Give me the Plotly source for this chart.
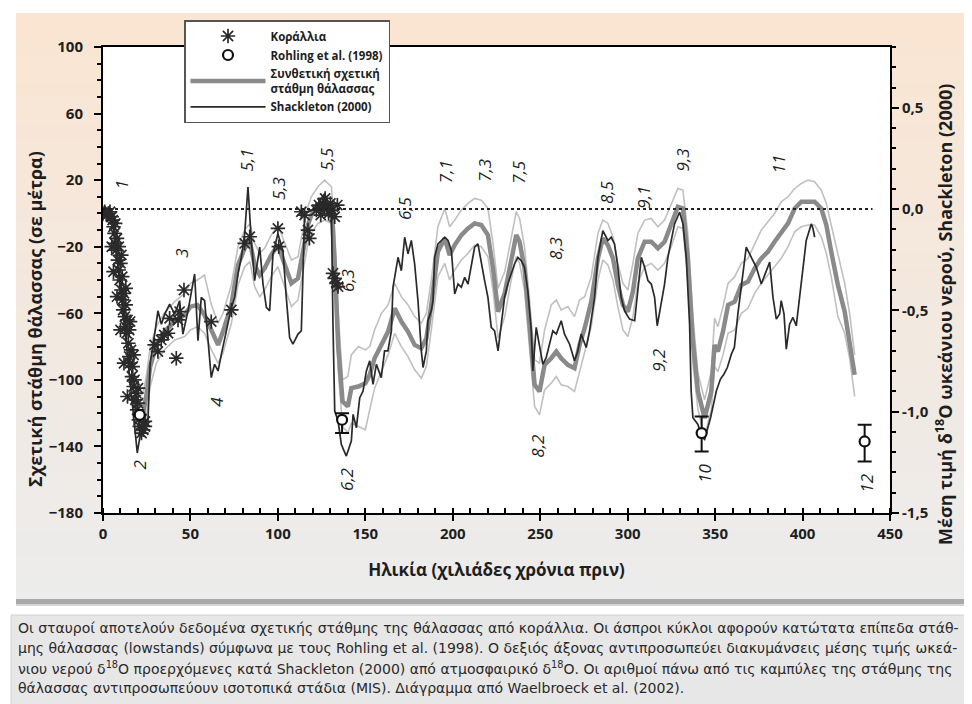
import plotly.graph_objects as go

# ---------------- DATA ----------------
# Composite relative sea level (m) and its envelope
comp_age = [17, 19, 21, 23, 25, 27, 30.5, 35, 41, 46.7,
            50, 54, 58, 62, 65.8, 68.6, 73.4, 75.3, 77.2, 81,
            84, 86.7, 89.6, 92.4, 96.2, 100, 103.9, 107.7, 111.5, 114.3,
            117.2, 119.1, 122.9, 126.7, 130.6, 132.5, 134.5, 137, 140, 142,
            146, 150, 152.5, 155.3, 159.2, 163, 166.8, 170.6, 174.4, 178.2,
            182, 184.9, 187.7, 191.5, 195.4, 198.2, 201.1, 204.9, 208.7, 212.5,
            216.3, 220.1, 223, 225.9, 229.7, 233.4, 236.3, 238.2, 241, 243.9,
            246.8, 249.6, 252.5, 256.3, 259.2, 262, 265.8, 269.6, 272.5, 275.4,
            279.2, 283, 285.8, 288.7, 291.6, 294.4, 297.3, 300.1, 303, 305.8,
            309.7, 313.5, 317.3, 321.1, 324.9, 328.7, 331.6, 334.4, 337.3, 340.2,
            344, 347.8, 349.7, 351.6, 354.5, 357.4, 361.2, 365, 368.8, 372.6,
            376.4, 380.2, 384, 387.8, 391.7, 395.5, 399.3, 403.1, 406.9, 410.7,
            413.6, 416.4, 420.2, 424.1, 426.9, 429.8]
comp_sl = [-110, -118, -122, -120, -108, -92, -79, -71, -65, -61,
           -56, -55, -61, -71, -79, -71, -55, -43, -31, -21,
           -17, -31, -37, -33, -25, -19, -31, -42, -39, -23,
           -7, -1, 5, 7, 5, -30, -80, -113, -116, -105,
           -104, -102, -97, -87, -79, -71, -57, -65, -71, -79,
           -81, -75, -55, -23, -15, -25, -19, -13, -9, -6,
           -7, -13, -33, -59, -48, -27, -13, -17, -33, -67,
           -103, -107, -91, -87, -83, -87, -91, -93, -79, -69,
           -53, -27, -15, -19, -27, -43, -55, -59, -47, -27,
           -17, -17, -21, -17, -7, 4, 3, -27, -77, -107,
           -123, -107, -79, -83, -71, -55, -53, -43, -41, -33,
           -27, -23, -17, -11, -6, 3, 7, 7, 7, 3,
           -7, -23, -43, -59, -79, -97]
comp_upper = [-98, -105, -110, -108, -96, -80, -68, -60, -53, -48,
              -42, -40, -37, -55, -66, -60, -43, -31, -20, -10,
              -6, -18, -24, -21, -13, -7, -18, -28, -26, -10,
              4, 10, 16, 20, 16, -10, -60, -100, -98, -85,
              -80, -82, -80, -70, -60, -55, -42, -50, -55, -62,
              -66, -60, -40, -8, 3, -8, -4, 2, 6, 9,
              8, 3, -18, -45, -35, -14, 1, -3, -20, -52,
              -88, -90, -70, -55, -52, -58, -56, -62, -52, -50,
              -38, -12, -4, -6, -14, -30, -42, -46, -30, -12,
              -4, -3, -8, -4, 6, 15, 14, -12, -62, -96,
              -112, -95, -63, -68, -56, -42, -38, -30, -27, -18,
              -10, -5, 0, 7, 10, 15, 18, 20, 19, 14,
              6, -7, -25, -42, -60, -85]
comp_lower = [-122, -130, -134, -132, -120, -104, -90, -82, -76, -74,
              -70, -68, -72, -82, -90, -84, -66, -55, -43, -32,
              -29, -44, -50, -46, -38, -32, -44, -56, -52, -36,
              -18, -12, -6, -4, -6, -45, -95, -128, -132, -126,
              -128, -130, -118, -105, -95, -85, -72, -80, -86, -94,
              -99, -92, -70, -38, -30, -40, -34, -28, -24, -19,
              -20, -26, -46, -75, -62, -40, -26, -30, -46, -80,
              -116, -121, -106, -102, -98, -103, -104, -107, -95, -84,
              -68, -40, -28, -31, -40, -56, -70, -74, -62, -42,
              -32, -30, -34, -30, -20, -8, -9, -40, -90, -118,
              -134, -118, -92, -95, -85, -72, -70, -60, -57, -48,
              -42, -37, -32, -27, -20, -11, -8, -7, -7, -14,
              -24, -38, -62, -72, -87, -110]

# Shackleton (2000) mean ocean-water d18O (right axis)
sh_age = [0, 3, 6, 9, 12, 15, 17, 19.6, 21, 23,
          25.7, 27, 29.7, 31.4, 33.4, 35.3, 38.1, 41, 43.8, 45.7,
          48.6, 52.4, 54.3, 56.2, 58.1, 60, 61.9, 63.8, 65.8, 67.7,
          70.5, 73.4, 75.3, 77.2, 79.1, 81, 82.9, 84.8, 86.7, 89.6,
          91.5, 93.4, 95.3, 97.2, 100, 102.9, 104.8, 106.7, 108.6, 111.5,
          113.4, 114.4, 115.3, 119.1, 122.9, 126.7, 129.6, 130.6, 131.5, 132.5,
          134.4, 136.3, 139.1, 142, 143, 144.9, 146.8, 148.7, 150.6, 152.5,
          154.4, 156.3, 159.1, 161, 162.9, 164.9, 165.8, 167.7, 168.7, 170.6,
          172.5, 174.4, 176.3, 178.2, 180.1, 182, 183, 184.9, 185.8, 187.7,
          188.7, 189.6, 191.5, 193.5, 195.4, 197.3, 199.2, 201.1, 203, 204.9,
          206.8, 208.7, 210.6, 212.5, 214.4, 216.3, 218.2, 220.1, 222, 223.9,
          225.9, 229.6, 231.5, 233.4, 235.3, 237.2, 239.1, 241, 242.9, 244.9,
          245.8, 247.7, 249.6, 251.5, 253.4, 255.3, 257.2, 259.2, 262, 263.9,
          266.8, 269.6, 271.5, 273.4, 276.3, 278.2, 281.1, 283, 285.8, 288.7,
          290.6, 292.5, 294.4, 296.3, 298.2, 301.1, 304, 305.8, 307.8, 309.7,
          311.6, 313.5, 315.4, 316.9, 319.2, 321.1, 323, 324.9, 326.8, 329.7,
          331.6, 333.5, 335.4, 336.3, 337.3, 340.2, 342, 344, 346, 347.4,
          350.7, 353, 355, 357, 359.3, 361, 363, 365, 367.8, 370.7,
          373.6, 376.4, 379.3, 381.2, 383.1, 385, 386.9, 387.8, 389.4, 390.7,
          392.6, 394.5, 396.4, 398.3, 400.2, 402.1, 405, 406, 406.9]
sh_d18o = [-0.015, -0.031, -0.097, -0.304, -0.551, -0.799, -0.964, -1.203, -1.129, -1.071,
           -1.046, -0.757, -0.609, -0.502, -0.568, -0.518, -0.469, -0.518, -0.452, -0.617,
           -0.502, -0.320, -0.650, -0.436, -0.452, -0.634, -0.832, -0.766, -0.799, -0.716,
           -0.601, -0.485, -0.436, -0.320, -0.238, -0.122, 0.109, -0.155, -0.353, -0.188,
           -0.370, -0.485, -0.502, -0.221, -0.122, -0.205, -0.436, -0.634, -0.667, -0.617,
           -0.601, -0.238, -0.023, -0.007, 0.026, 0.076, 0.010, -0.007, -0.568, -0.997,
           -1.046, -1.162, -1.219, -1.145, -1.013, -1.079, -0.931, -0.898, -0.799, -0.749,
           -0.865, -0.766, -0.832, -0.700, -0.700, -0.601, -0.386, -0.287, -0.238, -0.304,
           -0.139, -0.221, -0.155, -0.271, -0.452, -0.700, -0.782, -0.700, -0.551, -0.502,
           -0.452, -0.238, -0.172, -0.155, -0.139, -0.155, -0.205, -0.419, -0.370, -0.386,
           -0.337, -0.370, -0.287, -0.188, -0.172, -0.271, -0.353, -0.436, -0.584, -0.601,
           -0.700, -0.436, -0.370, -0.320, -0.271, -0.238, -0.254, -0.287, -0.403, -0.601,
           -0.799, -0.584, -0.667, -0.766, -0.733, -0.667, -0.601, -0.617, -0.551, -0.617,
           -0.667, -0.749, -0.700, -0.617, -0.683, -0.601, -0.436, -0.238, -0.106, -0.155,
           -0.139, -0.172, -0.287, -0.436, -0.502, -0.543, -0.551, -0.403, -0.238, -0.287,
           -0.353, -0.370, -0.436, -0.576, -0.469, -0.370, -0.238, -0.155, -0.073, -0.015,
           -0.073, -0.238, -0.568, -0.898, -1.030, -1.063, -1.120, -1.137, -1.071, -1.030,
           -0.898, -0.840, -0.815, -0.782, -0.716, -0.683, -0.518, -0.370, -0.188, -0.238,
           -0.287, -0.370, -0.304, -0.262, -0.436, -0.543, -0.518, -0.452, -0.518, -0.691,
           -0.568, -0.535, -0.576, -0.436, -0.287, -0.155, -0.073, -0.097, -0.139]

# Coral sea-level data (m)
coral_age = [0, 1, 2, 3, 4, 5, 5.5, 6, 6.5, 7,
             7, 7.5, 8, 8.5, 9, 9, 9.5, 10, 10.5, 11,
             11, 11.5, 12, 12.5, 13, 13, 13.5, 14, 14.5, 15,
             15, 15.5, 16, 16.5, 17, 17.5, 18, 18.5, 19, 19.5,
             20, 20.5, 21, 22, 23, 24, 5, 6, 8, 10,
             12, 14, 10.5, 13, 15.5, 17.5, 20, 24,
             29.5, 31.4, 33.3, 35, 37.2, 38.1, 41.9, 42.9, 43.8, 46.3,
             61.9, 73.4, 81, 83.9, 100, 100.5, 113.4, 115.3, 117.2, 118,
             122, 123.5, 124.5, 125.5, 126.5, 127, 128, 129, 130, 131,
             132.5, 134, 131.5, 132.5, 133.5, 134.4]
coral_sl = [0, 1, -1, 0, 1, -2, -4, -8, -12, -6,
            -18, -22, -15, -28, -20, -34, -40, -30, -46, -38,
            -52, -58, -48, -62, -55, -68, -72, -64, -78, -70,
            -86, -90, -82, -98, -92, -104, -100, -112, -108, -118,
            -114, -124, -128, -132, -130, -128, -20, -35, -50, -70,
            -90, -110, -25, -45, -65, -85, -105, -125,
            -79, -83, -76, -73, -72, -63, -87, -64, -59, -46,
            -65, -58, -18, -14, -9, -20, 1, -1, -10, -15,
            2, 5, -1, 6, 3, 9, 4, 0, 6, 2,
            -2, 5, -36, -39, -42, -44]

# Rohling et al. (1998) lowstands (m) with error bars
rohling_age = [21, 136.7, 342.3, 435.5]
rohling_sl = [-121, -124, -132, -137]
rohling_err_plus = [None, 4, 10, 10]
rohling_err_minus = [None, 8, 11, 12]

# Marine isotope stage labels
mis_labels = ["1", "2", "3", "4", "5,1", "5,3", "5,5", "6,3", "6,2", "6,5", "7,1", "7,3",
              "7,5", "8,3", "8,2", "8,5", "9,1", "9,3", "9,2", "10", "11", "12"]
mis_age = [10.3, 21, 44.8, 64.8, 82, 100.4, 127.7, 139.5, 139.1, 172.5, 196.3, 218.2,
           237.8, 258.8, 248.3, 288.3, 309.3, 331.2, 317.9, 343.6, 386.5, 436.1]
mis_level = [17, -151, -24, -113, 32, 15, 33, -40, -160, 3, 25, 26,
             25, -21, -140, 13, 10, 32, -88, -156, 30, -162]

x_ticks = [0, 50, 100, 150, 200, 250, 300, 350, 400, 450]
y2_ticks = [-1.5, -1.0, -0.5, 0.0, 0.5]
y2_ticktext = ["-1,5", "-1,0", "-0,5", "0,0", "0,5"]

y_title = "Σχετική στάθμη θάλασσας (σε μέτρα)"
y2_title = "Μέση τιμή δ<sup>18</sup>Ο ωκεάνιου νερού, Shackleton (2000)"
x_title = "Ηλικία (χιλιάδες χρόνια πριν)"

caption_lines = [
    "Οι σταυροί αποτελούν δεδομένα σχετικής στάθμης της θάλασσας από κοράλλια. Οι άσπροι κύκλοι αφορούν κατώτατα επίπεδα στάθ-",
    "μης θάλασσας (lowstands) σύμφωνα με τους Rohling et al. (1998). Ο δεξιός άξονας αντιπροσωπεύει διακυμάνσεις μέσης τιμής ωκεά-",
    "νιου νερού δ<sup>18</sup>Ο προερχόμενες κατά Shackleton (2000) από ατμοσφαιρικό δ<sup>18</sup>Ο. Οι αριθμοί πάνω από τις καμπύλες της στάθμης της",
    "θάλασσας αντιπροσωπεύουν ισοτοπικά στάδια (MIS). Διάγραμμα από Waelbroeck et al. (2002).",
]

# ---------------- LAYOUT HELPERS ----------------
W, H = 972, 704
ML, MR, MT, MB = 95, 90, 39, 199
PW, PH = W - ML - MR, H - MT - MB


def fx(p):
    return (p - ML) / PW


def fy(p):
    return (H - MB - p) / PH


FONT = "Open Sans, Noto Sans, DejaVu Sans, sans-serif"
CAPFONT = "DejaVu Sans, Open Sans, sans-serif"
INK = "#1e1e1e"
DARK = "#2a2a2a"

fig = go.Figure()

fig.add_trace(go.Scatter(x=comp_age, y=comp_upper, mode="lines", showlegend=False,
                         line=dict(color="#c0c0c0", width=1.6), hoverinfo="skip"))
fig.add_trace(go.Scatter(x=comp_age, y=comp_lower, mode="lines", showlegend=False,
                         line=dict(color="#c0c0c0", width=1.6), hoverinfo="skip"))
fig.add_trace(go.Scatter(x=comp_age, y=comp_sl, mode="lines",
                         name="Συνθετική σχετική<br>στάθμη θάλασσας", legendrank=3,
                         line=dict(color="#8a8a8a", width=4.5)))
fig.add_trace(go.Scatter(x=sh_age, y=sh_d18o, mode="lines", yaxis="y2",
                         name="Shackleton (2000)", legendrank=4,
                         line=dict(color=DARK, width=1.7)))
fig.add_trace(go.Scatter(x=coral_age, y=coral_sl, mode="markers", yaxis="y3",
                         name="Κοράλλια", legendrank=1,
                         marker=dict(symbol="asterisk-open", size=12, color=DARK,
                                     line=dict(color=DARK, width=1.7))))
fig.add_trace(go.Scatter(x=rohling_age, y=rohling_sl, mode="markers", yaxis="y3",
                         name="Rohling et al. (1998)", legendrank=2,
                         marker=dict(symbol="circle", size=10, color="white",
                                     line=dict(color="#111111", width=2.2)),
                         error_y=dict(type="data", symmetric=False, array=rohling_err_plus,
                                      arrayminus=rohling_err_minus, color="#111111",
                                      thickness=2, width=7)))

shapes = []
# beige-to-grey panel (gradient approximated by bands)
top_c = (250, 229, 210)
bot_c = (236, 236, 236)
y_top, y_bot = 5, 591
n = 42
for i in range(n):
    t = i / (n - 1)
    c = tuple(int(round(top_c[k] * (1 - t) + bot_c[k] * t)) for k in range(3))
    a = y_top + (y_bot - y_top) * i / n
    b = y_top + (y_bot - y_top) * (i + 1) / n
    shapes.append(dict(type="rect", xref="paper", yref="paper", layer="below",
                       x0=fx(8), x1=fx(975), y0=fy(b + 0.6), y1=fy(a),
                       fillcolor="rgb(%d,%d,%d)" % c, line=dict(width=0)))
shapes.append(dict(type="rect", xref="paper", yref="paper", layer="below",
                   x0=fx(8), x1=fx(975), y0=fy(596), y1=fy(591),
                   fillcolor="#a9a9a9", line=dict(width=0)))
shapes.append(dict(type="rect", xref="paper", yref="paper", layer="below",
                   x0=fx(8), x1=fx(975), y0=fy(598), y1=fy(596),
                   fillcolor="#d6d6d6", line=dict(width=0)))
# caption box
shapes.append(dict(type="rect", xref="paper", yref="paper", layer="below",
                   x0=fx(3), x1=fx(980), y0=fy(710), y1=fy(607),
                   fillcolor="#e7e7e7", line=dict(color="#d2d2d2", width=1)))
# white plotting area
shapes.append(dict(type="rect", xref="paper", yref="paper", layer="below",
                   x0=0, x1=1, y0=0, y1=1, fillcolor="white", line=dict(width=0)))
# dotted zero reference (right axis)
shapes.append(dict(type="line", xref="x", yref="y2", x0=0, x1=440, y0=0, y1=0,
                   line=dict(color="#222222", width=2, dash="dot")))

annotations = []
for lab, ax, ay in zip(mis_labels, mis_age, mis_level):
    annotations.append(dict(x=ax, y=ay, xref="x", yref="y", text=lab, showarrow=False,
                            textangle=-90,
                            font=dict(family=FONT, size=17, color=INK, style="italic")))
# axis titles (vertical ones placed as in the reference)
annotations.append(dict(x=fx(27), y=fy(311), xref="paper", yref="paper", text=y_title,
                        showarrow=False, textangle=-90, xanchor="center", yanchor="middle",
                        font=dict(family=FONT, size=18, color=INK, weight="bold")))
annotations.append(dict(x=fx(936), y=fy(307), xref="paper", yref="paper", text=y2_title,
                        showarrow=False, textangle=-90, xanchor="center", yanchor="middle",
                        font=dict(family=FONT, size=18, color=INK, weight="bold")))
cap_y = [620, 640, 660, 680]
for line, yy in zip(caption_lines, cap_y):
    annotations.append(dict(x=fx(8), y=fy(yy), xref="paper", yref="paper", text=line,
                            showarrow=False, xanchor="left", yanchor="middle", align="left",
                            font=dict(family=CAPFONT, size=14, color="#2a2a2a")))

fig.update_layout(
    width=W, height=H,
    margin=dict(l=ML, r=MR, t=MT, b=MB, autoexpand=False),
    paper_bgcolor="white", plot_bgcolor="white",
    font=dict(family=FONT, color=INK),
    shapes=shapes, annotations=annotations,
    showlegend=True,
    legend=dict(x=fx(176), y=fy(12), xanchor="left", yanchor="top",
                bgcolor="white", bordercolor="#555555", borderwidth=1.5,
                font=dict(family=FONT, size=11.5, color=INK, weight="bold"),
                itemwidth=75, tracegroupgap=0),
    xaxis=dict(range=[0, 450], tickvals=x_ticks, ticks="outside", ticklen=6, tickwidth=2,
               tickcolor="black", showline=True, linewidth=2, linecolor="black", mirror=True,
               showgrid=False, zeroline=False,
               minor=dict(dtick=10, tick0=0, ticks="inside", ticklen=5, tickwidth=1.5,
                          tickcolor="black", showgrid=False),
               tickfont=dict(family=FONT, size=15, color=INK, weight="bold"),
               title=dict(text=x_title, standoff=22,
                          font=dict(family=FONT, size=17, color=INK, weight="bold"))),
    yaxis=dict(range=[-180, 100], tick0=-180, dtick=40, ticks="outside", ticklen=7, tickwidth=2,
               tickcolor="black", showline=True, linewidth=2, linecolor="black",
               showgrid=False, zeroline=False, ticklabelstandoff=8,
               minor=dict(dtick=10, tick0=-180, ticks="outside", ticklen=4, tickwidth=1.5,
                          tickcolor="black", showgrid=False),
               tickfont=dict(family=FONT, size=15, color=INK, weight="bold")),
    yaxis2=dict(overlaying="y", side="right", range=[-1.5, 0.8], tickvals=y2_ticks,
                ticktext=y2_ticktext, ticks="outside", ticklen=7, tickwidth=2, tickcolor="black",
                showline=True, linewidth=2, linecolor="black", showgrid=False, zeroline=False,
                minor=dict(dtick=0.1, tick0=-1.5, ticks="outside", ticklen=4, tickwidth=1.5,
                           tickcolor="black", showgrid=False),
                tickfont=dict(family=FONT, size=15, color=INK, weight="bold")),
    yaxis3=dict(overlaying="y", range=[-180, 100], visible=False, showgrid=False,
                zeroline=False),
)

fig.write_html("out.html")
